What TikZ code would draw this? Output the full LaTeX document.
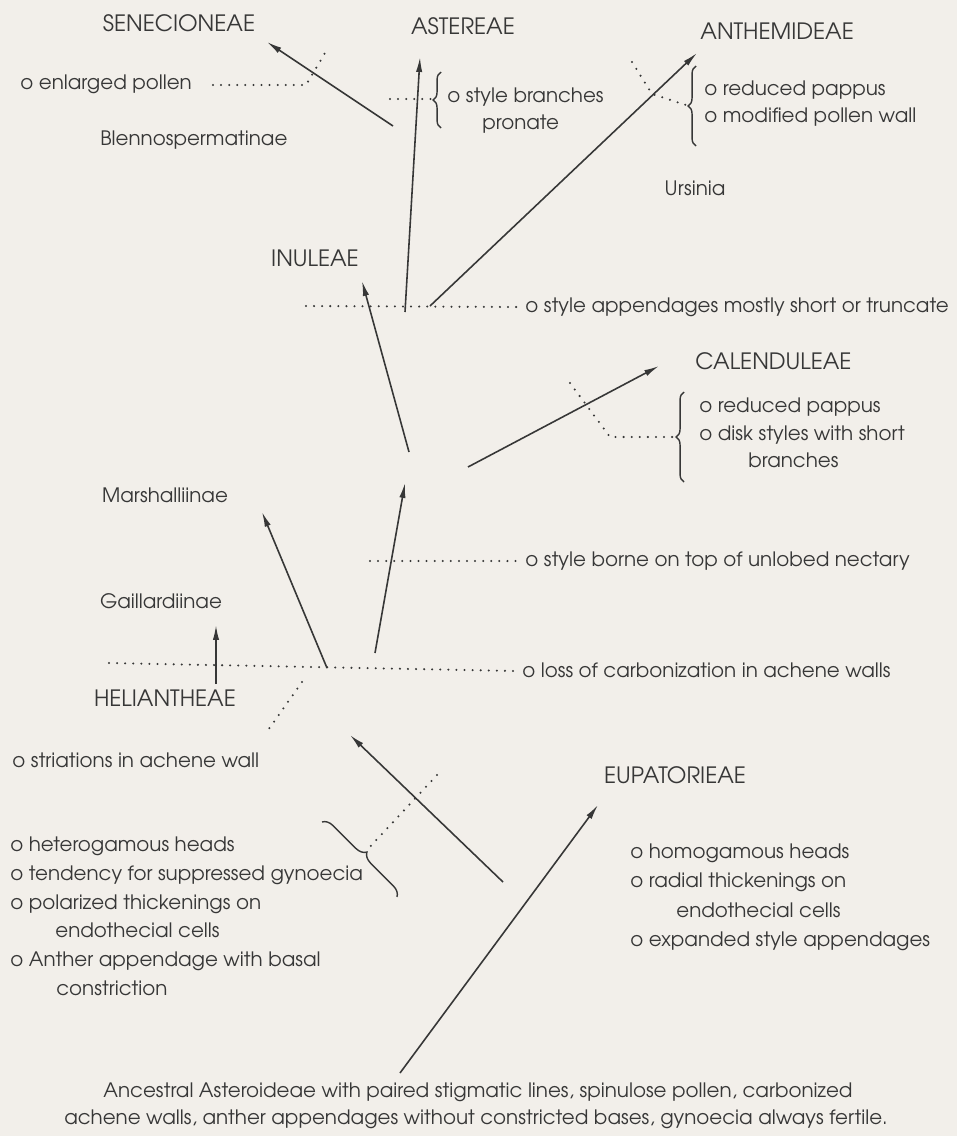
\documentclass[tikz,border=0pt]{standalone}
\usepackage{fontspec}
\setmainfont{TeX Gyre Adventor}
\usetikzlibrary{arrows.meta,decorations.pathreplacing,positioning}
\definecolor{paper}{RGB}{242,239,234}
\definecolor{ink}{RGB}{55,55,55}

\begin{document}
\begin{tikzpicture}[x=0.02cm,y=-0.02cm,
    every node/.style={inner sep=0pt,text=ink,text height=8pt,text depth=2pt,
      font=\fontsize{11.3}{13}\selectfont},
    tribe/.style={font=\fontsize{12.8}{14}\selectfont},
    trait/.style={anchor=west},
    arr/.style={color=ink,line width=0.9pt,-{Latex[length=8.5pt,width=3.6pt]}},
    cut/.style={draw=ink,line width=1.3pt,line cap=round,dash pattern=on 0pt off 4.6pt},
    curly/.style={draw=ink,line width=0.8pt,decorate,decoration={brace,amplitude=4.5pt}}]
  \fill[paper] (0,0) rectangle (957,1136);

  % tribes and subtribes
  \node[tribe] (sen) at (179,26) {SENECIONEAE};
  \node[tribe] (ast) at (463,29) {ASTEREAE};
  \node[tribe,trait] (ant) at (700,34) {ANTHEMIDEAE};
  \node[trait] (blen) at (100,140) {Blennospermatinae};
  \node (urs) at (695,190) {Ursinia};
  \node[tribe] (inu) at (315,261) {INULEAE};
  \node[tribe,trait] (cal) at (695,364) {CALENDULEAE};
  \node (mar) at (165,497) {Marshalliinae};
  \node (gai) at (161,603) {Gaillardiinae};
  \node[tribe] (hel) at (165,701) {HELIANTHEAE};
  \node[tribe] (eup) at (675,778) {EUPATORIEAE};

  % characters
  \node[trait] (pollen) at (20,84) {o enlarged pollen};
  \node[trait] (astA) at (447,97) {o style branches};
  \node[trait] (astB) at (482,124) {pronate};
  \node[trait] (antA) at (704,90) {o reduced pappus};
  \node[trait] (antB) at (704,117) {o modified pollen wall};
  \node[trait] (trunc) at (525,307) {o style appendages mostly short or truncate};
  \node[trait] (calA) at (699,407) {o reduced pappus};
  \node[trait] (calB) at (699,435) {o disk styles with short};
  \node[trait] (calC) at (748,462) {branches};
  \node[trait] (nect) at (525,561) {o style borne on top of unlobed nectary};
  \node[trait] (loss) at (522,672) {o loss of carbonization in achene walls};
  \node[trait] (stri) at (12,762) {o striations in achene wall};
  \node[trait] (eupA) at (630,853) {o homogamous heads};
  \node[trait] (eupB) at (630,882) {o radial thickenings on};
  \node[trait] (eupC) at (676,912) {endothecial cells};
  \node[trait] (eupD) at (630,941) {o expanded style appendages};
  \node[trait] (helA) at (10,846) {o heterogamous heads};
  \node[trait] (helB) at (10,875) {o tendency for suppressed gynoecia};
  \node[trait] (helC) at (10,904) {o polarized thickenings on};
  \node[trait] (helD) at (55,932) {endothecial cells};
  \node[trait] (helE) at (10,961) {o Anther appendage with basal};
  \node[trait] (helF) at (56,990) {constriction};
  \node (ancA) at (478,1092) {Ancestral Asteroideae with paired stigmatic lines, spinulose pollen, carbonized};
  \node (ancB) at (476,1119) {achene walls, anther appendages without constricted bases, gynoecia always fertile.};

  % branch points
  \coordinate (root) at (400,1073);
  \coordinate (eupTip) at (598,805);
  \coordinate (helBase) at (503,882);
  \coordinate (helTip) at (350,735);
  \coordinate (hub) at (327,668);
  \coordinate (gaiBase) at (216,684);
  \coordinate (gaiTip) at (216,625);
  \coordinate (marTip) at (262,512);
  \coordinate (cenBase) at (375,653);
  \coordinate (cenTip) at (405,483);
  \coordinate (inuBase) at (409,452);
  \coordinate (inuTip) at (362,281);
  \coordinate (calBase) at (468,467);
  \coordinate (calTip) at (659,366);
  \coordinate (astBase) at (405,312);
  \coordinate (astTip) at (420,57);
  \coordinate (antBase) at (430,306);
  \coordinate (antTip) at (697,53);
  \coordinate (senBase) at (393,126);
  \coordinate (senTip) at (267,42);

  \path[arr]
    (root) edge (eupTip)
    (helBase) edge (helTip)
    (gaiBase) edge (gaiTip)
    (hub) edge (marTip)
    (cenBase) edge (cenTip)
    (inuBase) edge (inuTip)
    (calBase) edge (calTip)
    (astBase) edge (astTip)
    (antBase) edge (antTip)
    (senBase) edge (senTip);

  % character state changes
  \coordinate (c1) at (213,85);
  \coordinate (c2) at (306,85);
  \coordinate (c3) at (328,48);
  \draw[cut] (c1) -- (c2) -- (c3);
  \coordinate (a1) at (390,99);
  \coordinate (a2) at (433,99);
  \draw[cut] (a1) -- (a2);
  \coordinate (ab1) at (441,128);
  \coordinate (ab2) at (441,72);
  \draw[curly] (ab1) -- (ab2);
  \coordinate (n1) at (632,62);
  \coordinate (n2) at (652,94);
  \coordinate (n3) at (689,106);
  \draw[cut] (n1) -- (n2) -- (n3);
  \coordinate (nb1) at (696,146);
  \coordinate (nb2) at (696,66);
  \draw[curly] (nb1) -- (nb2);
  \coordinate (t1) at (306,306);
  \coordinate (t2) at (518,307);
  \draw[cut] (t1) -- (t2);
  \coordinate (k1) at (570,383);
  \coordinate (k2) at (610,437);
  \coordinate (k3) at (676,437);
  \draw[cut] (k1) -- (k2) -- (k3);
  \coordinate (kb1) at (684,482);
  \coordinate (kb2) at (684,392);
  \draw[curly] (kb1) -- (kb2);
  \coordinate (s1) at (370,561);
  \coordinate (s2) at (519,561);
  \draw[cut] (s1) -- (s2);
  \coordinate (l1) at (109,663);
  \coordinate (l2) at (515,671);
  \draw[cut] (l1) -- (l2);
  \coordinate (h1) at (302,682);
  \coordinate (h2) at (266,733);
  \draw[cut] (h1) -- (h2);
  \coordinate (e1) at (437,775);
  \coordinate (e2) at (367,850);
  \draw[cut] (e1) -- (e2);
  \coordinate (eb1) at (322,822);
  \coordinate (eb2) at (397,897);
  \draw[curly,decoration={amplitude=6pt}] (eb1) -- (eb2);
\end{tikzpicture}
\end{document}
